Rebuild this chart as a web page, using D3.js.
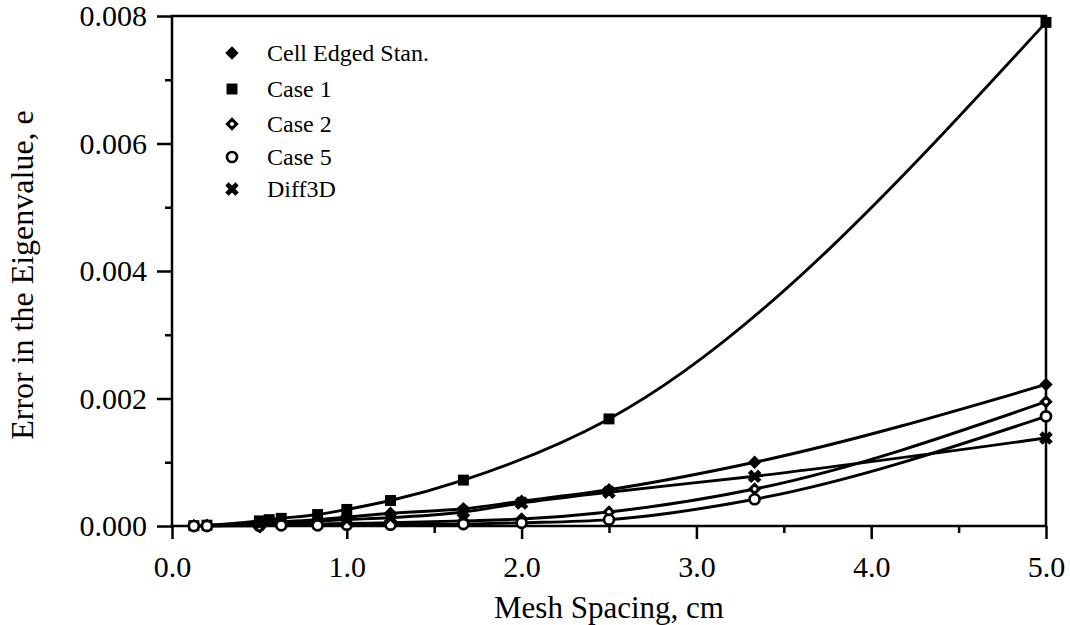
<!DOCTYPE html>
<html>
<head>
<meta charset="utf-8">
<script src="https://cdn.jsdelivr.net/npm/d3@7"></script>
<style>
    html, body { margin: 0; padding: 0; background: #fff; }
    svg { display: block; }
    text { font-family: "Liberation Serif", "Times New Roman", serif; fill: #000; }
</style>
</head>
<body>
<div id="chart"></div>
<script>
// ── data ──

const xTicks = [0, 1, 2, 3, 4, 5];
const xTickLabels = ['0.0', '1.0', '2.0', '3.0', '4.0', '5.0'];
const yTicks = [0, 0.002, 0.004, 0.006, 0.008];
const yTickLabels = ['0.000', '0.002', '0.004', '0.006', '0.008'];

const seriesNames = ['Cell Edged Stan.', 'Case 1', 'Case 2', 'Case 5', 'Diff3D'];

const meshCellEdged = [0.125, 0.2, 0.5, 0.625, 0.833, 1.0, 1.25, 1.667, 2.0, 2.5, 3.333, 5.0];
const errCellEdged  = [0.000003, 0.000008, 0.00005, 0.00007, 0.0001, 0.00014, 0.0002, 0.00027, 0.00039, 0.00057, 0.001, 0.00222];

const meshCase1 = [0.125, 0.2, 0.5, 0.556, 0.625, 0.833, 1.0, 1.25, 1.667, 2.5, 5.0];
const errCase1  = [0.000005, 0.000013, 0.00008, 0.0001, 0.00012, 0.00018, 0.00026, 0.0004, 0.00072, 0.00168, 0.0079];

const meshCase2 = [0.125, 0.2, 0.5, 0.625, 0.833, 1.0, 1.25, 1.667, 2.0, 2.5, 3.333, 5.0];
const errCase2  = [0.000001, 0.000002, 0.00001, 0.00002, 0.00003, 0.00004, 0.00005, 0.00008, 0.00011, 0.00022, 0.00058, 0.00195];

const meshCase5 = [0.125, 0.2, 0.5, 0.625, 0.833, 1.0, 1.25, 1.667, 2.0, 2.5, 3.333, 5.0];
const errCase5  = [0, 0.000001, 0.000005, 0.00001, 0.00001, 0.00002, 0.00002, 0.00003, 0.00005, 0.0001, 0.00042, 0.00172];

const meshDiff3D = [0.5, 1.0, 1.25, 1.667, 2.0, 2.5, 3.333, 5.0];
const errDiff3D  = [0.00003, 0.0001, 0.00013, 0.00022, 0.00036, 0.00053, 0.00078, 0.00138];

// ── layout ──
const W = 1070, H = 625;
const margin = { left: 172, top: 16, right: 24, bottom: 99 };
const plotW = W - margin.left - margin.right;
const plotH = H - margin.top - margin.bottom;

const svg = d3.select('#chart').append('svg')
    .attr('width', W)
    .attr('height', H);

const x = d3.scaleLinear().domain([0, 5]).range([margin.left, margin.left + plotW]);
const y = d3.scaleLinear().domain([0, 0.008]).range([margin.top + plotH, margin.top]);

// frame
svg.append('rect')
    .attr('x', x(0)).attr('y', y(0.008))
    .attr('width', x(5) - x(0)).attr('height', y(0) - y(0.008))
    .attr('fill', 'none').attr('stroke', '#000').attr('stroke-width', 2.5);

// x axis (major ticks labelled, minor at halves)
const xAxis = d3.axisBottom(x)
    .tickValues(xTicks)
    .tickFormat((d, i) => xTickLabels[i])
    .tickSize(13)
    .tickPadding(17);
const gx = svg.append('g').attr('transform', `translate(0,${y(0)})`).call(xAxis);
gx.select('.domain').remove();
gx.selectAll('line').attr('stroke-width', 2.5);
gx.selectAll('text').attr('font-size', 30).attr('font-family', '"Liberation Serif", serif');

const gxMinor = svg.append('g').attr('transform', `translate(0,${y(0)})`)
    .call(d3.axisBottom(x).tickValues([0.5, 1.5, 2.5, 3.5, 4.5]).tickSize(7).tickFormat(''));
gxMinor.select('.domain').remove();
gxMinor.selectAll('line').attr('stroke-width', 2.5);

// y axis
const yAxis = d3.axisLeft(y)
    .tickValues(yTicks)
    .tickFormat((d, i) => yTickLabels[i])
    .tickSize(15)
    .tickPadding(10);
const gy = svg.append('g').attr('transform', `translate(${x(0)},0)`).call(yAxis);
gy.select('.domain').remove();
gy.selectAll('line').attr('stroke-width', 2.5);
gy.selectAll('text').attr('font-size', 30).attr('font-family', '"Liberation Serif", serif');

const gyMinor = svg.append('g').attr('transform', `translate(${x(0)},0)`)
    .call(d3.axisLeft(y).tickValues([0.001, 0.003, 0.005, 0.007]).tickSize(7).tickFormat(''));
gyMinor.select('.domain').remove();
gyMinor.selectAll('line').attr('stroke-width', 2.5);

// axis titles
svg.append('text')
    .attr('x', (x(0) + x(5)) / 2)
    .attr('y', 618)
    .attr('text-anchor', 'middle')
    .attr('font-size', 31)
    .text('Mesh Spacing, cm');

svg.append('text')
    .attr('transform', `translate(33,${(y(0) + y(0.008)) / 2 + 4}) rotate(-90)`)
    .attr('text-anchor', 'middle')
    .attr('font-size', 32)
    .text('Error in the Eigenvalue, e');

// ── series ──
const series = [
    { name: seriesNames[0], xs: meshCellEdged, ys: errCellEdged, marker: 'filledDiamond' },
    { name: seriesNames[1], xs: meshCase1, ys: errCase1, marker: 'square' },
    { name: seriesNames[2], xs: meshCase2, ys: errCase2, marker: 'openDiamond' },
    { name: seriesNames[3], xs: meshCase5, ys: errCase5, marker: 'circle' },
    { name: seriesNames[4], xs: meshDiff3D, ys: errDiff3D, marker: 'cross' },
];

const line = d3.line()
    .x(d => x(d[0]))
    .y(d => y(d[1]))
    .curve(d3.curveMonotoneX);

const plot = svg.append('g');

series.forEach(s => {
    const pts = s.xs.map((v, i) => [v, s.ys[i]]);
    plot.append('path')
        .datum(pts)
        .attr('d', line)
        .attr('fill', 'none')
        .attr('stroke', '#000')
        .attr('stroke-width', 2.9)
        .attr('stroke-linejoin', 'round');
});

function drawMarker(sel, type, cx, cy) {
    const g = sel.append('g').attr('transform', `translate(${cx},${cy})`);
    if (type === 'filledDiamond') {
        g.append('path').attr('d', d3.symbol(d3.symbolSquare, 90)()).attr('transform', 'rotate(45)').attr('fill', '#000');
    } else if (type === 'square') {
        g.append('path').attr('d', d3.symbol(d3.symbolSquare, 120)()).attr('fill', '#000');
    } else if (type === 'openDiamond') {
        g.append('path').attr('d', d3.symbol(d3.symbolSquare, 90)()).attr('transform', 'rotate(45)').attr('fill', '#000');
        g.append('circle').attr('r', 2).attr('fill', '#fff');
    } else if (type === 'circle') {
        g.append('circle').attr('r', 5).attr('fill', '#fff').attr('stroke', '#000').attr('stroke-width', 2.7);
    } else if (type === 'cross') {
        g.append('path').attr('d', d3.symbol(d3.symbolCross, 115)()).attr('transform', 'rotate(45)').attr('fill', '#000');
    }
}

series.forEach(s => {
    s.xs.forEach((v, i) => drawMarker(plot, s.marker, x(v), y(s.ys[i])));
});

// ── legend ──
const legendRows = [53, 89, 124, 157, 189];
const legend = svg.append('g');
series.forEach((s, i) => {
    drawMarker(legend, s.marker, 232, legendRows[i]);
    legend.append('text')
        .attr('x', 267)
        .attr('y', legendRows[i] + 8)
        .attr('font-size', 24)
        .text(s.name);
});
</script>
</body>
</html>
